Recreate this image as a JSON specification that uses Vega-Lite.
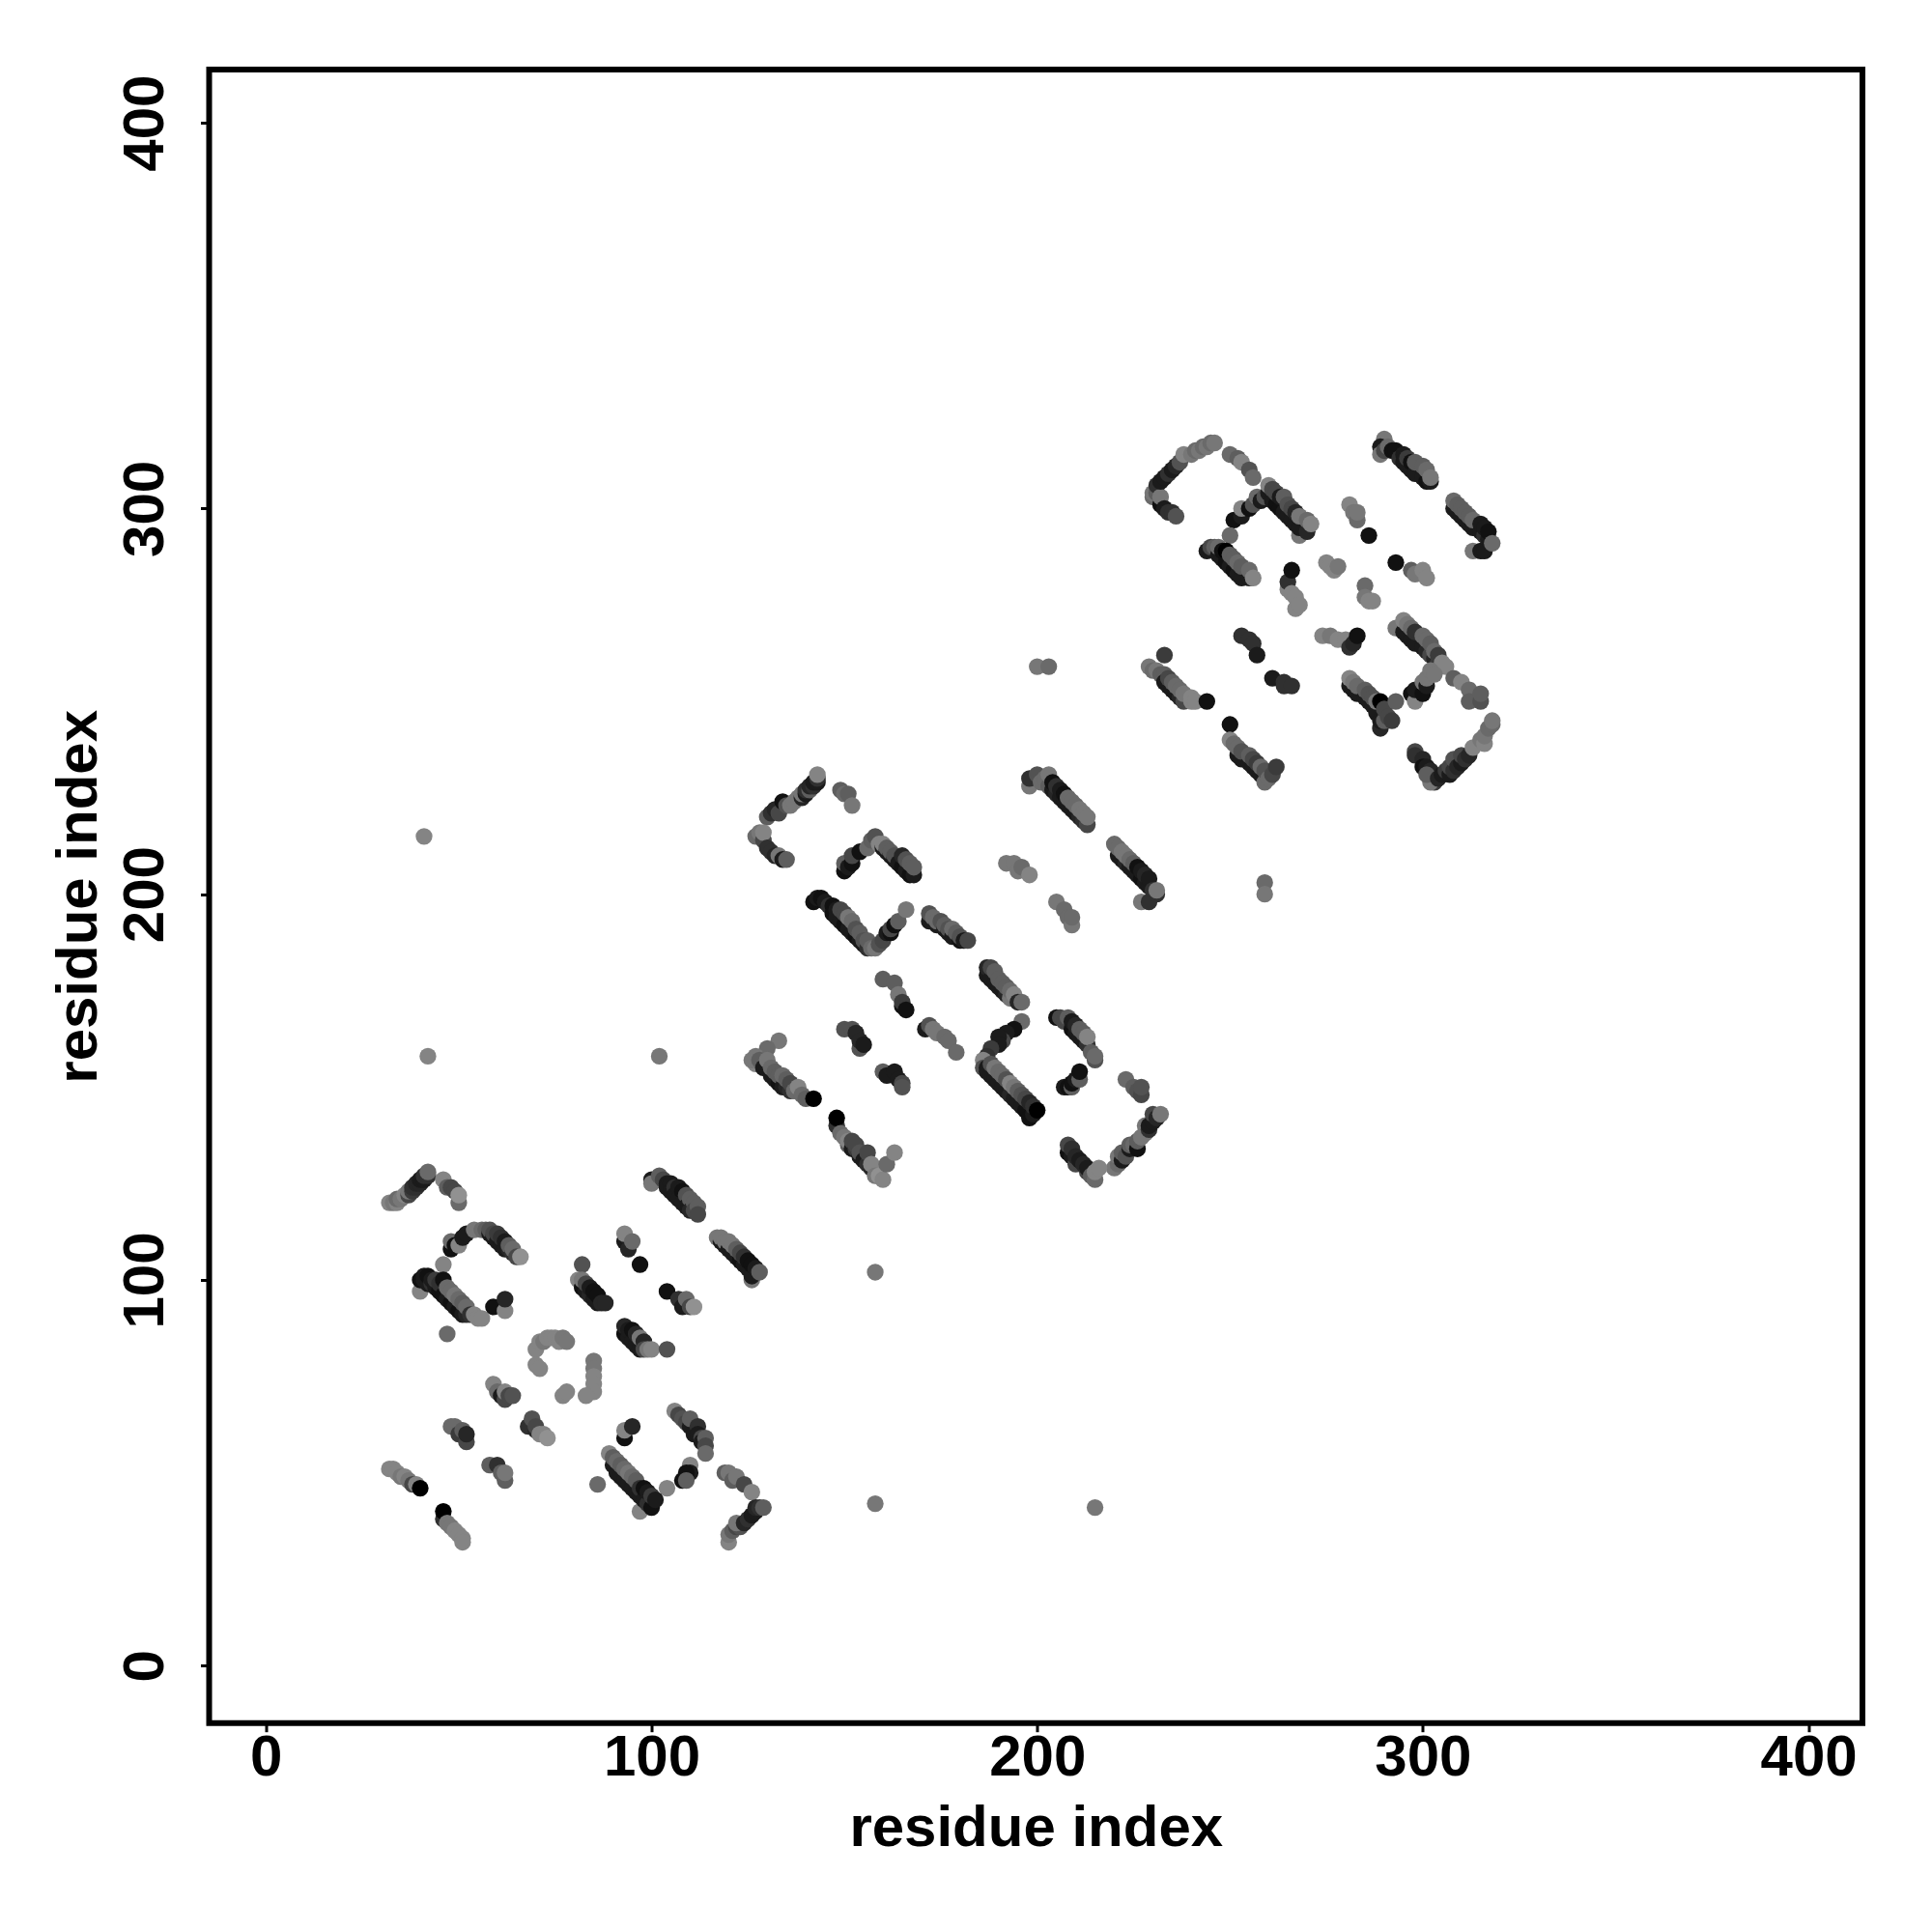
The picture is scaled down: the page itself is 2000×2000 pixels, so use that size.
{"$schema":"https://vega.github.io/schema/vega-lite/v6.json","autosize":{"type":"none"},"padding":{"left":216.5,"top":72,"right":70,"bottom":214},"width":1711.5,"height":1711.7,"background":"white","view":{"stroke":"black","strokeWidth":6,"fill":"white"},"data":{"values":[
{"i":41,"j":215,"g":0.55},{"i":42,"j":158,"g":0.55},{"i":102,"j":158,"g":0.5},{"i":158,"j":102,"g":0.5},{"i":158,"j":42,"g":0.5},{"i":215,"j":41,"g":0.5},{"i":259,"j":203,"g":0.45},{"i":259,"j":200,"g":0.5},{"i":200,"j":259,"g":0.5},{"i":203,"j":259,"g":0.45},
{"i":32,"j":120,"g":0.55},{"i":33,"j":120,"g":0.5},{"i":34,"j":120,"g":0.55},{"i":34,"j":121,"g":0.45},{"i":35,"j":121,"g":0.5},{"i":36,"j":122,"g":0.55},{"i":37,"j":122,"g":0.3},{"i":37,"j":123,"g":0.5},{"i":38,"j":123,"g":0.25},{"i":38,"j":124,"g":0.2},{"i":39,"j":124,"g":0.2},{"i":39,"j":125,"g":0.15},{"i":40,"j":125,"g":0.15},{"i":40,"j":126,"g":0.1},{"i":41,"j":126,"g":0.1},{"i":41,"j":127,"g":0.2},{"i":42,"j":127,"g":0.2},{"i":42,"j":128,"g":0.45},
{"i":46,"j":126,"g":0.55},{"i":47,"j":124,"g":0.4},{"i":48,"j":124,"g":0.3},{"i":49,"j":123,"g":0.3},{"i":50,"j":120,"g":0.45},{"i":50,"j":122,"g":0.6},
{"i":48,"j":108,"g":0.05},{"i":48,"j":110,"g":0.45},{"i":49,"j":109,"g":0.05},{"i":50,"j":109,"g":0.55},{"i":51,"j":111,"g":0.1},{"i":52,"j":112,"g":0.1},{"i":54,"j":113,"g":0.5},{"i":56,"j":113,"g":0.45},{"i":57,"j":113,"g":0.4},{"i":58,"j":112,"g":0.1},{"i":58,"j":113,"g":0.35},{"i":59,"j":111,"g":0.1},{"i":59,"j":112,"g":0.3},{"i":60,"j":110,"g":0.1},{"i":60,"j":112,"g":0.25},{"i":61,"j":109,"g":0.1},{"i":61,"j":111,"g":0.2},{"i":62,"j":108,"g":0.1},{"i":62,"j":110,"g":0.1},{"i":63,"j":108,"g":0.15},{"i":63,"j":109,"g":0.4},{"i":64,"j":107,"g":0.2},{"i":64,"j":108,"g":0.45},{"i":65,"j":106,"g":0.3},{"i":66,"j":106,"g":0.6},
{"i":40,"j":97,"g":0.55},{"i":46,"j":104,"g":0.55},{"i":40,"j":100,"g":0.05},{"i":41,"j":100,"g":0.1},{"i":41,"j":101,"g":0.1},{"i":42,"j":99,"g":0.1},{"i":42,"j":101,"g":0.05},{"i":43,"j":99,"g":0.2},{"i":43,"j":100,"g":0.1},{"i":44,"j":98,"g":0.1},{"i":44,"j":100,"g":0.25},{"i":45,"j":97,"g":0.05},{"i":45,"j":99,"g":0.2},{"i":46,"j":96,"g":0.05},{"i":46,"j":100,"g":0.05},{"i":47,"j":95,"g":0.1},{"i":47,"j":98,"g":0.45},{"i":48,"j":94,"g":0.05},{"i":48,"j":97,"g":0.45},{"i":49,"j":93,"g":0.1},{"i":49,"j":96,"g":0.5},{"i":50,"j":92,"g":0.05},{"i":50,"j":95,"g":0.45},{"i":51,"j":91,"g":0.1},{"i":51,"j":94,"g":0.4},{"i":52,"j":91,"g":0.15},{"i":52,"j":93,"g":0.45},{"i":53,"j":91,"g":0.2},{"i":54,"j":91,"g":0.55},{"i":55,"j":90,"g":0.55},{"i":56,"j":90,"g":0.55},{"i":59,"j":93,"g":0.05},{"i":62,"j":92,"g":0.55},{"i":62,"j":95,"g":0.15},{"i":47,"j":86,"g":0.45},
{"i":100,"j":126,"g":0.1},{"i":100,"j":125,"g":0.5},{"i":102,"j":127,"g":0.4},{"i":103,"j":126,"g":0.3},{"i":104,"j":125,"g":0.1},{"i":104,"j":124,"g":0.1},{"i":105,"j":125,"g":0.1},{"i":105,"j":123,"g":0.1},{"i":106,"j":124,"g":0.2},{"i":106,"j":122,"g":0.1},{"i":107,"j":124,"g":0.1},{"i":107,"j":121,"g":0.1},{"i":108,"j":123,"g":0.05},{"i":108,"j":120,"g":0.1},{"i":109,"j":122,"g":0.35},{"i":109,"j":119,"g":0.1},{"i":110,"j":121,"g":0.4},{"i":110,"j":118,"g":0.15},{"i":111,"j":120,"g":0.4},{"i":111,"j":118,"g":0.3},{"i":112,"j":119,"g":0.4},{"i":112,"j":117,"g":0.3},
{"i":117,"j":111,"g":0.5},{"i":118,"j":110,"g":0.1},{"i":118,"j":111,"g":0.5},{"i":119,"j":109,"g":0.1},{"i":119,"j":110,"g":0.5},{"i":120,"j":108,"g":0.1},{"i":120,"j":110,"g":0.5},{"i":121,"j":107,"g":0.1},{"i":121,"j":109,"g":0.5},{"i":122,"j":106,"g":0.1},{"i":122,"j":108,"g":0.4},{"i":123,"j":105,"g":0.05},{"i":123,"j":107,"g":0.3},{"i":124,"j":104,"g":0.1},{"i":124,"j":106,"g":0.2},{"i":125,"j":103,"g":0.1},{"i":125,"j":105,"g":0.05},{"i":126,"j":100,"g":0.5},{"i":126,"j":101,"g":0.1},{"i":126,"j":104,"g":0.05},{"i":127,"j":103,"g":0.1},{"i":128,"j":102,"g":0.4},
{"i":93,"j":110,"g":0.1},{"i":93,"j":112,"g":0.55},{"i":94,"j":108,"g":0.15},{"i":95,"j":110,"g":0.45},{"i":97,"j":104,"g":0.05},
{"i":82,"j":104,"g":0.35},{"i":81,"j":100,"g":0.55},{"i":82,"j":98,"g":0.05},{"i":82,"j":100,"g":0.5},{"i":83,"j":97,"g":0.1},{"i":83,"j":99,"g":0.3},{"i":84,"j":96,"g":0.15},{"i":84,"j":98,"g":0.1},{"i":85,"j":95,"g":0.1},{"i":85,"j":97,"g":0.05},{"i":86,"j":94,"g":0.1},{"i":86,"j":96,"g":0.05},{"i":87,"j":94,"g":0.15},{"i":88,"j":94,"g":0.15},
{"i":104,"j":97,"g":0.05},{"i":107,"j":95,"g":0.2},{"i":108,"j":93,"g":0.1},{"i":109,"j":95,"g":0.45},{"i":110,"j":93,"g":0.3},{"i":111,"j":93,"g":0.6},
{"i":93,"j":86,"g":0.05},{"i":93,"j":88,"g":0.15},{"i":94,"j":85,"g":0.1},{"i":94,"j":87,"g":0.1},{"i":95,"j":84,"g":0.1},{"i":95,"j":87,"g":0.05},{"i":96,"j":83,"g":0.1},{"i":96,"j":86,"g":0.15},{"i":97,"j":82,"g":0.1},{"i":97,"j":85,"g":0.5},{"i":98,"j":84,"g":0.15},{"i":98,"j":82,"g":0.3},{"i":99,"j":82,"g":0.5},{"i":100,"j":82,"g":0.55},{"i":104,"j":82,"g":0.35},
{"i":70,"j":82,"g":0.55},{"i":71,"j":84,"g":0.55},{"i":72,"j":84,"g":0.5},{"i":73,"j":85,"g":0.55},{"i":74,"j":85,"g":0.55},{"i":75,"j":85,"g":0.55},{"i":76,"j":84,"g":0.55},{"i":77,"j":85,"g":0.5},{"i":78,"j":84,"g":0.5},{"i":70,"j":78,"g":0.55},{"i":71,"j":77,"g":0.55},{"i":85,"j":79,"g":0.5},{"i":85,"j":77,"g":0.5},{"i":85,"j":75,"g":0.55},{"i":85,"j":73,"g":0.55},{"i":85,"j":71,"g":0.55},{"i":83,"j":70,"g":0.55},{"i":77,"j":70,"g":0.55},{"i":78,"j":71,"g":0.55},
{"i":59,"j":73,"g":0.55},{"i":60,"j":71,"g":0.45},{"i":61,"j":70,"g":0.1},{"i":62,"j":69,"g":0.3},{"i":62,"j":71,"g":0.55},{"i":63,"j":70,"g":0.3},{"i":64,"j":70,"g":0.35},
{"i":68,"j":62,"g":0.2},{"i":69,"j":64,"g":0.35},{"i":70,"j":61,"g":0.15},{"i":70,"j":62,"g":0.3},{"i":71,"j":60,"g":0.55},{"i":72,"j":60,"g":0.55},{"i":73,"j":59,"g":0.6},
{"i":48,"j":62,"g":0.45},{"i":49,"j":62,"g":0.45},{"i":50,"j":60,"g":0.25},{"i":51,"j":61,"g":0.4},{"i":52,"j":58,"g":0.3},{"i":52,"j":60,"g":0.15},
{"i":58,"j":52,"g":0.4},{"i":60,"j":52,"g":0.2},{"i":61,"j":50,"g":0.4},{"i":62,"j":48,"g":0.4},{"i":62,"j":50,"g":0.5},
{"i":32,"j":51,"g":0.55},{"i":33,"j":51,"g":0.55},{"i":34,"j":50,"g":0.55},{"i":35,"j":49,"g":0.5},{"i":36,"j":49,"g":0.55},{"i":37,"j":48,"g":0.5},{"i":38,"j":47,"g":0.3},{"i":39,"j":47,"g":0.55},{"i":40,"j":46,"g":0},
{"i":46,"j":38,"g":0.2},{"i":46,"j":40,"g":0},{"i":47,"j":37,"g":0.5},{"i":48,"j":36,"g":0.5},{"i":49,"j":35,"g":0.55},{"i":50,"j":34,"g":0.55},{"i":51,"j":33,"g":0.55},{"i":51,"j":32,"g":0.55},
{"i":86,"j":47,"g":0.45},{"i":93,"j":59,"g":0.05},{"i":93,"j":61,"g":0.55},{"i":95,"j":62,"g":0.15},
{"i":106,"j":66,"g":0.55},{"i":107,"j":65,"g":0.3},{"i":108,"j":64,"g":0.35},{"i":109,"j":63,"g":0.3},{"i":110,"j":62,"g":0.1},{"i":110,"j":64,"g":0.4},{"i":111,"j":60,"g":0.1},{"i":112,"j":62,"g":0.2},{"i":112,"j":60,"g":0.1},{"i":113,"j":59,"g":0.3},{"i":113,"j":58,"g":0.1},{"i":114,"j":59,"g":0.4},{"i":114,"j":57,"g":0.3},{"i":114,"j":55,"g":0.45},{"i":110,"j":52,"g":0.55},{"i":110,"j":50,"g":0.1},{"i":109,"j":50,"g":0.05},{"i":108,"j":48,"g":0.05},{"i":109,"j":48,"g":0.4},{"i":104,"j":46,"g":0.55},
{"i":97,"j":40,"g":0.55},{"i":89,"j":55,"g":0.55},{"i":90,"j":52,"g":0.1},{"i":90,"j":54,"g":0.4},{"i":91,"j":50,"g":0.1},{"i":91,"j":53,"g":0.45},{"i":92,"j":49,"g":0.1},{"i":92,"j":52,"g":0.4},{"i":93,"j":48,"g":0.1},{"i":93,"j":51,"g":0.45},{"i":94,"j":47,"g":0.1},{"i":94,"j":50,"g":0.5},{"i":95,"j":46,"g":0.1},{"i":95,"j":49,"g":0.45},{"i":96,"j":45,"g":0.1},{"i":96,"j":48,"g":0.4},{"i":97,"j":44,"g":0.1},{"i":97,"j":46,"g":0.2},{"i":98,"j":43,"g":0.1},{"i":98,"j":46,"g":0.05},{"i":99,"j":42,"g":0.2},{"i":99,"j":45,"g":0.1},{"i":100,"j":41,"g":0.05},{"i":100,"j":44,"g":0.25},{"i":101,"j":43,"g":0.1},
{"i":119,"j":50,"g":0.4},{"i":120,"j":50,"g":0.5},{"i":121,"j":48,"g":0.4},{"i":122,"j":49,"g":0.5},{"i":124,"j":47,"g":0.3},{"i":126,"j":45,"g":0.55},{"i":120,"j":32,"g":0.55},{"i":120,"j":34,"g":0.5},{"i":121,"j":35,"g":0.4},{"i":122,"j":36,"g":0.3},{"i":123,"j":36,"g":0.35},{"i":122,"j":37,"g":0.5},{"i":124,"j":37,"g":0.15},{"i":125,"j":38,"g":0.2},{"i":126,"j":39,"g":0.1},{"i":127,"j":40,"g":0.1},{"i":127,"j":41,"g":0.15},{"i":128,"j":41,"g":0.2},{"i":129,"j":41,"g":0.4},
{"i":130,"j":220,"g":0.4},{"i":131,"j":221,"g":0.2},{"i":132,"j":222,"g":0.15},{"i":133,"j":221,"g":0.3},{"i":134,"j":224,"g":0.05},{"i":135,"j":223,"g":0.35},{"i":136,"j":223,"g":0.5},{"i":137,"j":224,"g":0.5},{"i":138,"j":225,"g":0.5},{"i":139,"j":225,"g":0.15},{"i":139,"j":226,"g":0.5},{"i":140,"j":226,"g":0.1},{"i":140,"j":227,"g":0.2},{"i":141,"j":227,"g":0.4},{"i":141,"j":228,"g":0.15},{"i":142,"j":228,"g":0.2},{"i":142,"j":229,"g":0.1},{"i":143,"j":229,"g":0.1},{"i":143,"j":230,"g":0.2},{"i":143,"j":231,"g":0.55},
{"i":149,"j":227,"g":0.4},{"i":150,"j":226,"g":0.45},{"i":151,"j":226,"g":0.4},{"i":152,"j":223,"g":0.5},
{"i":127,"j":215,"g":0.45},{"i":128,"j":216,"g":0.5},{"i":129,"j":214,"g":0.3},{"i":129,"j":216,"g":0.55},{"i":130,"j":212,"g":0.2},{"i":131,"j":211,"g":0.2},{"i":132,"j":210,"g":0.15},{"i":133,"j":210,"g":0.5},{"i":134,"j":209,"g":0.1},{"i":135,"j":209,"g":0.4},
{"i":150,"j":206,"g":0.05},{"i":150,"j":208,"g":0.4},{"i":151,"j":207,"g":0.1},{"i":152,"j":208,"g":0.05},{"i":152,"j":210,"g":0.3},{"i":154,"j":211,"g":0.05},{"i":156,"j":212,"g":0.45},{"i":157,"j":214,"g":0.4},{"i":158,"j":215,"g":0.35},{"i":159,"j":213,"g":0.55},{"i":160,"j":212,"g":0.1},{"i":160,"j":213,"g":0.55},{"i":161,"j":211,"g":0.1},{"i":161,"j":212,"g":0.4},{"i":162,"j":210,"g":0.1},{"i":162,"j":211,"g":0.4},{"i":163,"j":209,"g":0.1},{"i":163,"j":210,"g":0.35},{"i":164,"j":208,"g":0.1},{"i":165,"j":207,"g":0.05},{"i":165,"j":210,"g":0.15},{"i":166,"j":206,"g":0.1},{"i":166,"j":209,"g":0.35},{"i":167,"j":205,"g":0.05},{"i":167,"j":208,"g":0.4},{"i":168,"j":205,"g":0.1},{"i":168,"j":207,"g":0.4},
{"i":142,"j":198,"g":0.05},{"i":143,"j":199,"g":0.1},{"i":144,"j":199,"g":0.05},{"i":145,"j":198,"g":0.1},{"i":146,"j":197,"g":0.2},{"i":147,"j":197,"g":0.05},{"i":147,"j":195,"g":0.05},{"i":148,"j":196,"g":0.1},{"i":148,"j":194,"g":0.1},{"i":149,"j":193,"g":0.1},{"i":149,"j":196,"g":0.3},{"i":150,"j":192,"g":0.05},{"i":150,"j":195,"g":0.3},{"i":151,"j":191,"g":0.1},{"i":151,"j":194,"g":0.5},{"i":152,"j":190,"g":0.1},{"i":152,"j":193,"g":0.45},{"i":153,"j":189,"g":0.05},{"i":153,"j":191,"g":0.35},{"i":154,"j":188,"g":0.1},{"i":154,"j":190,"g":0.4},{"i":155,"j":187,"g":0.1},{"i":155,"j":188,"g":0.35},{"i":156,"j":186,"g":0.2},{"i":156,"j":188,"g":0.4},{"i":157,"j":186,"g":0.45},{"i":158,"j":186,"g":0.5},{"i":159,"j":187,"g":0.35},{"i":160,"j":188,"g":0.3},{"i":161,"j":190,"g":0.1},{"i":162,"j":190,"g":0.05},{"i":162,"j":191,"g":0.3},{"i":163,"j":192,"g":0.05},{"i":164,"j":193,"g":0.4},{"i":166,"j":196,"g":0.5},
{"i":172,"j":193,"g":0.1},{"i":172,"j":195,"g":0.35},{"i":173,"j":194,"g":0.45},{"i":174,"j":192,"g":0.1},{"i":174,"j":193,"g":0.45},{"i":175,"j":193,"g":0.35},{"i":176,"j":191,"g":0.1},{"i":176,"j":192,"g":0.4},{"i":177,"j":190,"g":0.1},{"i":177,"j":191,"g":0.35},{"i":178,"j":189,"g":0.1},{"i":178,"j":191,"g":0.45},{"i":179,"j":189,"g":0.1},{"i":179,"j":190,"g":0.4},{"i":180,"j":188,"g":0.05},{"i":180,"j":189,"g":0.35},{"i":181,"j":188,"g":0.1},{"i":182,"j":188,"g":0.3},
{"i":187,"j":179,"g":0.1},{"i":187,"j":181,"g":0.15},{"i":188,"j":178,"g":0.1},{"i":188,"j":181,"g":0.3},{"i":189,"j":177,"g":0.1},{"i":189,"j":180,"g":0.4},{"i":190,"j":176,"g":0.1},{"i":190,"j":178,"g":0.4},{"i":191,"j":175,"g":0.1},{"i":191,"j":177,"g":0.4},{"i":192,"j":174,"g":0.15},{"i":192,"j":176,"g":0.4},{"i":193,"j":173,"g":0.5},{"i":193,"j":175,"g":0.45},{"i":194,"j":174,"g":0.55},{"i":195,"j":172,"g":0.15},{"i":196,"j":172,"g":0.45},
{"i":160,"j":178,"g":0.4},{"i":163,"j":177,"g":0.4},{"i":164,"j":174,"g":0.5},{"i":165,"j":171,"g":0.05},{"i":165,"j":172,"g":0.25},{"i":166,"j":170,"g":0.05},
{"i":171,"j":165,"g":0.1},{"i":172,"j":166,"g":0.35},{"i":173,"j":165,"g":0.5},{"i":174,"j":164,"g":0.5},{"i":176,"j":163,"g":0.45},{"i":177,"j":162,"g":0.45},{"i":179,"j":159,"g":0.45},
{"i":150,"j":165,"g":0.35},{"i":152,"j":165,"g":0.35},{"i":153,"j":164,"g":0.15},{"i":154,"j":160,"g":0.35},{"i":154,"j":162,"g":0.15},{"i":155,"j":161,"g":0.1},
{"i":160,"j":154,"g":0.4},{"i":161,"j":153,"g":0.1},{"i":163,"j":154,"g":0.1},{"i":164,"j":152,"g":0.1},{"i":165,"j":151,"g":0.3},{"i":165,"j":150,"g":0.35},
{"i":133,"j":162,"g":0.5},{"i":130,"j":160,"g":0.45},{"i":127,"j":156,"g":0.55},{"i":126,"j":157,"g":0.5},{"i":127,"j":158,"g":0.5},{"i":128,"j":157,"g":0.4},{"i":129,"j":155,"g":0.1},{"i":130,"j":157,"g":0.5},{"i":131,"j":153,"g":0.1},{"i":131,"j":155,"g":0.45},{"i":132,"j":152,"g":0.1},{"i":132,"j":154,"g":0.4},{"i":133,"j":151,"g":0.05},{"i":133,"j":153,"g":0.4},{"i":134,"j":150,"g":0.1},{"i":134,"j":153,"g":0.45},{"i":135,"j":150,"g":0.15},{"i":135,"j":152,"g":0.4},{"i":136,"j":149,"g":0.2},{"i":136,"j":151,"g":0.3},{"i":137,"j":149,"g":0.45},{"i":138,"j":150,"g":0.55},{"i":139,"j":148,"g":0.45},{"i":140,"j":147,"g":0.4},{"i":142,"j":147,"g":0},
{"i":148,"j":140,"g":0.2},{"i":148,"j":142,"g":0},{"i":149,"j":138,"g":0.45},{"i":150,"j":137,"g":0.5},{"i":151,"j":135,"g":0.4},{"i":151,"j":136,"g":0.55},{"i":152,"j":134,"g":0.1},{"i":152,"j":136,"g":0.3},{"i":153,"j":134,"g":0.25},{"i":153,"j":135,"g":0.3},{"i":154,"j":132,"g":0.1},{"i":154,"j":133,"g":0.35},{"i":155,"j":131,"g":0.1},{"i":156,"j":130,"g":0.2},{"i":156,"j":133,"g":0.3},{"i":157,"j":129,"g":0.15},{"i":157,"j":130,"g":0.55},{"i":158,"j":127,"g":0.5},{"i":159,"j":127,"g":0.6},{"i":160,"j":126,"g":0.55},{"i":161,"j":130,"g":0.45},{"i":163,"j":133,"g":0.55},
{"i":196,"j":167,"g":0.45},{"i":194,"j":165,"g":0.05},{"i":192,"j":164,"g":0.1},{"i":191,"j":162,"g":0.3},{"i":190,"j":163,"g":0.1},{"i":190,"j":161,"g":0.1},{"i":188,"j":160,"g":0.25},{"i":187,"j":158,"g":0.2},{"i":186,"j":157,"g":0.55},{"i":186,"j":155,"g":0.35},{"i":187,"j":155,"g":0.1},{"i":187,"j":154,"g":0.1},{"i":188,"j":153,"g":0.1},{"i":188,"j":156,"g":0.35},{"i":189,"j":152,"g":0.1},{"i":189,"j":155,"g":0.5},{"i":190,"j":151,"g":0.1},{"i":190,"j":154,"g":0.45},{"i":191,"j":150,"g":0.1},{"i":191,"j":153,"g":0.45},{"i":192,"j":149,"g":0.1},{"i":192,"j":152,"g":0.35},{"i":193,"j":148,"g":0.15},{"i":193,"j":151,"g":0.55},{"i":194,"j":147,"g":0.1},{"i":194,"j":150,"g":0.5},{"i":195,"j":146,"g":0.1},{"i":195,"j":149,"g":0.4},{"i":196,"j":145,"g":0.1},{"i":196,"j":148,"g":0.35},{"i":197,"j":144,"g":0.05},{"i":197,"j":147,"g":0.3},{"i":198,"j":142,"g":0.05},{"i":198,"j":146,"g":0.15},{"i":199,"j":143,"g":0.1},{"i":199,"j":145,"g":0.2},{"i":200,"j":144,"g":0},
{"i":205,"j":168,"g":0.05},{"i":206,"j":168,"g":0.3},{"i":207,"j":167,"g":0.3},{"i":208,"j":168,"g":0.4},{"i":209,"j":165,"g":0.05},{"i":209,"j":167,"g":0.1},{"i":210,"j":164,"g":0.1},{"i":210,"j":166,"g":0.15},{"i":211,"j":163,"g":0.1},{"i":211,"j":165,"g":0.4},{"i":212,"j":162,"g":0.1},{"i":212,"j":164,"g":0.4},{"i":213,"j":161,"g":0.2},{"i":213,"j":163,"g":0.55},{"i":214,"j":159,"g":0.4},{"i":215,"j":157,"g":0.35},{"i":215,"j":158,"g":0.45},
{"i":207,"j":150,"g":0.1},{"i":208,"j":150,"g":0.05},{"i":209,"j":150,"g":0.4},{"i":209,"j":151,"g":0.05},{"i":210,"j":152,"g":0.1},{"i":211,"j":152,"g":0.4},{"i":211,"j":154,"g":0.05},
{"i":223,"j":152,"g":0.45},{"i":225,"j":150,"g":0.4},{"i":226,"j":149,"g":0.35},{"i":227,"j":148,"g":0.3},{"i":227,"j":150,"g":0.35},
{"i":220,"j":129,"g":0.5},{"i":221,"j":130,"g":0.45},{"i":221,"j":132,"g":0.5},{"i":222,"j":131,"g":0.1},{"i":222,"j":133,"g":0.4},{"i":223,"j":132,"g":0.35},{"i":224,"j":134,"g":0.1},{"i":224,"j":135,"g":0.4},{"i":225,"j":135,"g":0.45},{"i":226,"j":134,"g":0.05},{"i":226,"j":136,"g":0.4},{"i":227,"j":137,"g":0.5},{"i":228,"j":138,"g":0.5},{"i":228,"j":140,"g":0.5},{"i":229,"j":139,"g":0.2},{"i":229,"j":140,"g":0.1},{"i":230,"j":141,"g":0.1},{"i":230,"j":143,"g":0.3},{"i":231,"j":142,"g":0.15},{"i":232,"j":143,"g":0.5},
{"i":208,"j":133,"g":0.05},{"i":208,"j":135,"g":0.3},{"i":209,"j":132,"g":0.1},{"i":209,"j":134,"g":0.2},{"i":210,"j":130,"g":0.3},{"i":210,"j":132,"g":0.15},{"i":211,"j":131,"g":0.1},{"i":212,"j":130,"g":0.15},{"i":213,"j":128,"g":0.3},{"i":213,"j":129,"g":0.1},{"i":214,"j":127,"g":0.4},{"i":215,"j":126,"g":0.45},{"i":215,"j":128,"g":0.55},{"i":216,"j":129,"g":0.55},
{"i":198,"j":228,"g":0.5},{"i":198,"j":230,"g":0.2},{"i":200,"j":231,"g":0.35},{"i":201,"j":229,"g":0.45},{"i":202,"j":230,"g":0.45},{"i":203,"j":228,"g":0.4},{"i":203,"j":231,"g":0.5},{"i":204,"j":227,"g":0.1},{"i":204,"j":229,"g":0.05},{"i":205,"j":226,"g":0.15},{"i":205,"j":228,"g":0.2},{"i":206,"j":225,"g":0.1},{"i":206,"j":227,"g":0.1},{"i":207,"j":224,"g":0.1},{"i":207,"j":226,"g":0.05},{"i":208,"j":223,"g":0.1},{"i":208,"j":225,"g":0.45},{"i":209,"j":222,"g":0.1},{"i":209,"j":224,"g":0.45},{"i":210,"j":221,"g":0.1},{"i":210,"j":223,"g":0.45},{"i":211,"j":220,"g":0.15},{"i":211,"j":222,"g":0.5},{"i":212,"j":219,"g":0.2},{"i":212,"j":221,"g":0.5},{"i":213,"j":218,"g":0.3},{"i":213,"j":220,"g":0.5},
{"i":220,"j":213,"g":0.45},{"i":221,"j":210,"g":0.1},{"i":221,"j":212,"g":0.45},{"i":222,"j":209,"g":0.1},{"i":222,"j":211,"g":0.5},{"i":223,"j":208,"g":0.15},{"i":223,"j":210,"g":0.5},{"i":224,"j":207,"g":0.1},{"i":224,"j":209,"g":0.45},{"i":225,"j":206,"g":0.1},{"i":225,"j":208,"g":0.4},{"i":226,"j":205,"g":0.1},{"i":226,"j":207,"g":0.05},{"i":227,"j":198,"g":0.5},{"i":227,"j":204,"g":0.05},{"i":227,"j":206,"g":0.1},{"i":228,"j":203,"g":0.1},{"i":228,"j":205,"g":0.15},{"i":229,"j":198,"g":0.2},{"i":229,"j":202,"g":0.1},{"i":229,"j":204,"g":0.1},{"i":230,"j":201,"g":0.2},{"i":231,"j":200,"g":0.2},{"i":231,"j":201,"g":0.5},
{"i":192,"j":208,"g":0.5},{"i":194,"j":208,"g":0.5},{"i":195,"j":206,"g":0.5},{"i":196,"j":207,"g":0.45},{"i":198,"j":205,"g":0.55},{"i":205,"j":198,"g":0.5},{"i":207,"j":196,"g":0.45},{"i":208,"j":194,"g":0.45},{"i":209,"j":192,"g":0.5},{"i":209,"j":194,"g":0.45},
{"i":230,"j":303,"g":0.45},{"i":230,"j":304,"g":0.5},{"i":231,"j":304,"g":0.4},{"i":231,"j":306,"g":0.2},{"i":232,"j":301,"g":0.05},{"i":232,"j":303,"g":0.5},{"i":232,"j":307,"g":0.1},{"i":233,"j":300,"g":0.1},{"i":233,"j":308,"g":0.1},{"i":234,"j":299,"g":0.2},{"i":234,"j":309,"g":0.2},{"i":235,"j":299,"g":0.2},{"i":235,"j":310,"g":0.1},{"i":236,"j":298,"g":0.35},{"i":236,"j":311,"g":0.15},{"i":237,"j":312,"g":0.35},{"i":238,"j":314,"g":0.55},{"i":240,"j":314,"g":0.5},{"i":241,"j":315,"g":0.45},{"i":242,"j":315,"g":0.5},{"i":243,"j":316,"g":0.45},{"i":244,"j":316,"g":0.5},{"i":245,"j":317,"g":0.45},{"i":246,"j":317,"g":0.5},
{"i":250,"j":314,"g":0.45},{"i":252,"j":313,"g":0.4},{"i":253,"j":312,"g":0.55},{"i":255,"j":310,"g":0.35},{"i":256,"j":308,"g":0.45},
{"i":251,"j":297,"g":0.05},{"i":253,"j":298,"g":0.1},{"i":253,"j":300,"g":0.55},{"i":255,"j":300,"g":0.05},{"i":256,"j":301,"g":0.35},{"i":257,"j":303,"g":0.45},{"i":258,"j":302,"g":0.1},{"i":259,"j":303,"g":0.35},{"i":260,"j":304,"g":0.1},{"i":260,"j":306,"g":0.55},{"i":261,"j":302,"g":0.1},{"i":261,"j":305,"g":0.3},{"i":262,"j":301,"g":0.05},{"i":262,"j":304,"g":0.3},{"i":263,"j":300,"g":0.05},{"i":263,"j":303,"g":0.1},{"i":264,"j":299,"g":0.1},{"i":264,"j":303,"g":0.4},{"i":265,"j":298,"g":0.1},{"i":265,"j":301,"g":0.35},{"i":266,"j":297,"g":0.1},{"i":266,"j":300,"g":0.3},{"i":267,"j":296,"g":0.1},{"i":267,"j":299,"g":0.15},{"i":268,"j":293,"g":0.5},{"i":268,"j":295,"g":0.1},{"i":268,"j":298,"g":0.5},{"i":270,"j":294,"g":0.15},{"i":270,"j":297,"g":0.45},{"i":271,"j":296,"g":0.55},
{"i":244,"j":289,"g":0.1},{"i":245,"j":290,"g":0.3},{"i":246,"j":290,"g":0.4},{"i":247,"j":288,"g":0.1},{"i":247,"j":290,"g":0.45},{"i":248,"j":287,"g":0.1},{"i":248,"j":289,"g":0.05},{"i":250,"j":293,"g":0.45},{"i":249,"j":286,"g":0.05},{"i":249,"j":289,"g":0},{"i":250,"j":285,"g":0.1},{"i":250,"j":288,"g":0.4},{"i":251,"j":284,"g":0.05},{"i":251,"j":287,"g":0.4},{"i":252,"j":283,"g":0.1},{"i":252,"j":286,"g":0.45},{"i":253,"j":282,"g":0.1},{"i":253,"j":285,"g":0.4},{"i":255,"j":282,"g":0.1},{"i":255,"j":284,"g":0.45},{"i":256,"j":282,"g":0.55},
{"i":265,"j":279,"g":0.55},{"i":265,"j":281,"g":0.2},{"i":266,"j":278,"g":0.55},{"i":267,"j":277,"g":0.55},{"i":266,"j":284,"g":0.05},{"i":267,"j":274,"g":0.55},{"i":268,"j":275,"g":0.55},
{"i":275,"j":286,"g":0.55},{"i":276,"j":285,"g":0.55},{"i":277,"j":284,"g":0.55},{"i":278,"j":285,"g":0.5},{"i":285,"j":280,"g":0.45},{"i":285,"j":277,"g":0.5},{"i":286,"j":276,"g":0.55},{"i":287,"j":276,"g":0.55},
{"i":281,"j":301,"g":0.55},{"i":282,"j":299,"g":0.5},{"i":283,"j":297,"g":0.45},{"i":283,"j":299,"g":0.5},{"i":286,"j":293,"g":0.05},
{"i":290,"j":318,"g":0.5},{"i":289,"j":316,"g":0.1},{"i":289,"j":314,"g":0.5},{"i":290,"j":315,"g":0.3},{"i":291,"j":316,"g":0.45},{"i":292,"j":315,"g":0.05},{"i":293,"j":315,"g":0.05},{"i":294,"j":313,"g":0.2},{"i":295,"j":312,"g":0.1},{"i":295,"j":314,"g":0.1},{"i":296,"j":311,"g":0.1},{"i":296,"j":313,"g":0.25},{"i":297,"j":310,"g":0.1},{"i":297,"j":312,"g":0.05},{"i":298,"j":309,"g":0.1},{"i":298,"j":312,"g":0.4},{"i":300,"j":308,"g":0.1},{"i":300,"j":311,"g":0.4},{"i":301,"j":307,"g":0.05},{"i":301,"j":310,"g":0.45},{"i":302,"j":307,"g":0.1},{"i":302,"j":308,"g":0.5},
{"i":308,"j":300,"g":0.1},{"i":308,"j":302,"g":0.45},{"i":309,"j":299,"g":0.1},{"i":309,"j":301,"g":0.4},{"i":310,"j":298,"g":0.1},{"i":310,"j":300,"g":0.4},{"i":311,"j":297,"g":0.1},{"i":311,"j":299,"g":0.4},{"i":312,"j":296,"g":0.1},{"i":312,"j":298,"g":0.4},{"i":313,"j":289,"g":0.5},{"i":313,"j":295,"g":0.1},{"i":313,"j":297,"g":0.45},{"i":315,"j":289,"g":0.1},{"i":315,"j":294,"g":0.1},{"i":315,"j":296,"g":0.1},{"i":316,"j":289,"g":0.1},{"i":316,"j":293,"g":0.2},{"i":316,"j":295,"g":0.1},{"i":317,"j":292,"g":0.1},{"i":317,"j":294,"g":0.05},{"i":318,"j":291,"g":0.45},
{"i":293,"j":286,"g":0.05},{"i":297,"j":284,"g":0.4},{"i":298,"j":283,"g":0.5},{"i":300,"j":284,"g":0.55},{"i":301,"j":282,"g":0.55},
{"i":274,"j":267,"g":0.55},{"i":276,"j":267,"g":0.5},{"i":278,"j":266,"g":0.55},{"i":280,"j":266,"g":0.55},{"i":281,"j":264,"g":0.2},{"i":282,"j":265,"g":0.15},{"i":283,"j":267,"g":0.05},
{"i":253,"j":267,"g":0.2},{"i":255,"j":266,"g":0.2},{"i":256,"j":265,"g":0.2},{"i":257,"j":262,"g":0.1},{"i":261,"j":256,"g":0.1},{"i":264,"j":255,"g":0.2},{"i":264,"j":254,"g":0.2},{"i":266,"j":254,"g":0.2},
{"i":229,"j":259,"g":0.5},{"i":230,"j":258,"g":0.45},{"i":231,"j":258,"g":0.5},{"i":232,"j":257,"g":0.4},{"i":233,"j":262,"g":0.25},{"i":233,"j":257,"g":0.4},{"i":233,"j":255,"g":0.1},{"i":234,"j":254,"g":0.1},{"i":234,"j":256,"g":0.3},{"i":235,"j":253,"g":0.1},{"i":235,"j":255,"g":0.4},{"i":236,"j":252,"g":0.1},{"i":236,"j":254,"g":0.45},{"i":237,"j":251,"g":0.15},{"i":237,"j":253,"g":0.45},{"i":238,"j":250,"g":0.3},{"i":238,"j":252,"g":0.5},{"i":240,"j":250,"g":0.55},{"i":240,"j":251,"g":0.55},{"i":241,"j":250,"g":0.55},{"i":244,"j":250,"g":0.05},
{"i":250,"j":244,"g":0.05},{"i":250,"j":240,"g":0.55},{"i":251,"j":239,"g":0.45},{"i":252,"j":236,"g":0.1},{"i":252,"j":238,"g":0.45},{"i":253,"j":235,"g":0.1},{"i":253,"j":237,"g":0.35},{"i":255,"j":234,"g":0.1},{"i":255,"j":236,"g":0.4},{"i":256,"j":233,"g":0.1},{"i":256,"j":235,"g":0.3},{"i":257,"j":232,"g":0.1},{"i":257,"j":234,"g":0.25},{"i":258,"j":231,"g":0.1},{"i":258,"j":233,"g":0.45},{"i":259,"j":229,"g":0.45},{"i":259,"j":232,"g":0.35},{"i":260,"j":230,"g":0.45},{"i":261,"j":231,"g":0.3},{"i":262,"j":233,"g":0.25},
{"i":293,"j":269,"g":0.5},{"i":295,"j":268,"g":0.1},{"i":295,"j":271,"g":0.55},{"i":296,"j":267,"g":0.1},{"i":296,"j":270,"g":0.5},{"i":297,"j":266,"g":0.1},{"i":297,"j":269,"g":0.45},{"i":298,"j":265,"g":0.1},{"i":298,"j":268,"g":0.2},{"i":300,"j":264,"g":0.1},{"i":300,"j":267,"g":0.45},{"i":301,"j":263,"g":0.15},{"i":301,"j":266,"g":0.45},{"i":302,"j":262,"g":0.3},{"i":302,"j":265,"g":0.4},{"i":303,"j":261,"g":0.15},{"i":303,"j":263,"g":0.45},{"i":304,"j":260,"g":0.25},{"i":304,"j":262,"g":0.25},{"i":305,"j":260,"g":0.55},{"i":306,"j":259,"g":0.55},
{"i":297,"j":252,"g":0.05},{"i":298,"j":250,"g":0.55},{"i":298,"j":253,"g":0.1},{"i":300,"j":252,"g":0.05},{"i":300,"j":255,"g":0.5},{"i":301,"j":254,"g":0.1},{"i":301,"j":256,"g":0.5},{"i":302,"j":258,"g":0.5},{"i":303,"j":257,"g":0.5},
{"i":281,"j":254,"g":0.1},{"i":281,"j":256,"g":0.55},{"i":282,"j":253,"g":0.1},{"i":282,"j":255,"g":0.5},{"i":283,"j":252,"g":0.1},{"i":283,"j":254,"g":0.45},{"i":285,"j":251,"g":0.1},{"i":285,"j":253,"g":0.4},{"i":286,"j":250,"g":0.1},{"i":286,"j":252,"g":0.35},{"i":287,"j":249,"g":0.1},{"i":287,"j":251,"g":0.35},{"i":288,"j":247,"g":0.1},{"i":288,"j":250,"g":0.5},{"i":289,"j":243,"g":0.15},{"i":289,"j":245,"g":0.1},{"i":289,"j":250,"g":0},{"i":290,"j":245,"g":0.4},{"i":290,"j":248,"g":0.3},{"i":291,"j":246,"g":0.3},{"i":292,"j":245,"g":0.25},{"i":293,"j":250,"g":0.4},
{"i":308,"j":256,"g":0.4},{"i":310,"j":255,"g":0.55},{"i":312,"j":253,"g":0.45},{"i":312,"j":250,"g":0.4},{"i":315,"j":250,"g":0.35},{"i":315,"j":252,"g":0.4},
{"i":298,"j":237,"g":0.3},{"i":298,"j":236,"g":0.2},{"i":300,"j":235,"g":0.15},{"i":300,"j":233,"g":0.05},{"i":301,"j":233,"g":0.1},{"i":302,"j":232,"g":0.15},{"i":303,"j":229,"g":0.25},{"i":302,"j":229,"g":0.5},{"i":301,"j":231,"g":0.4},{"i":304,"j":230,"g":0.15},{"i":305,"j":231,"g":0.1},{"i":306,"j":232,"g":0.25},{"i":307,"j":231,"g":0.1},{"i":307,"j":233,"g":0.3},{"i":308,"j":232,"g":0.2},{"i":308,"j":235,"g":0.35},{"i":309,"j":233,"g":0.15},{"i":310,"j":234,"g":0.1},{"i":310,"j":236,"g":0.3},{"i":311,"j":235,"g":0.2},{"i":312,"j":236,"g":0.15},{"i":313,"j":238,"g":0.55},{"i":315,"j":240,"g":0.5},{"i":316,"j":239,"g":0.55},{"i":316,"j":241,"g":0.5},{"i":317,"j":243,"g":0.45},{"i":318,"j":244,"g":0.45},{"i":318,"j":245,"g":0.5}
]},"mark":{"type":"circle","size":300,"opacity":1},"encoding":{"x":{"field":"i","type":"quantitative","scale":{"domain":[-14.73,414.0],"nice":false,"zero":false},"axis":{"values":[0,100,200,300,400],"title":"residue index","domain":false,"grid":false,"ticks":true,"tickSize":9,"tickWidth":3,"tickColor":"black","labelFont":"Liberation Sans","labelFontWeight":"bold","labelFontSize":60,"labelColor":"black","labelPadding":-2,"labelFlush":false,"labelOverlap":false,"titleFont":"Liberation Sans","titleFontWeight":"bold","titleFontSize":60,"titleColor":"black","titlePadding":14}},"y":{"field":"j","type":"quantitative","scale":{"domain":[-14.88,413.8],"nice":false,"zero":false},"axis":{"values":[0,100,200,300,400],"title":"residue index","domain":false,"grid":false,"ticks":true,"tickSize":9,"tickWidth":3,"tickColor":"black","labelFont":"Liberation Sans","labelFontWeight":"bold","labelFontSize":60,"labelColor":"black","labelAngle":-90,"labelAlign":"center","labelBaseline":"bottom","labelPadding":26,"labelFlush":false,"labelOverlap":false,"titleFont":"Liberation Sans","titleFontWeight":"bold","titleFontSize":60,"titleColor":"black","titlePadding":8}},"color":{"field":"g","type":"quantitative","legend":null,"scale":{"domain":[0,1],"range":["#000000","#ffffff"]}}}}
